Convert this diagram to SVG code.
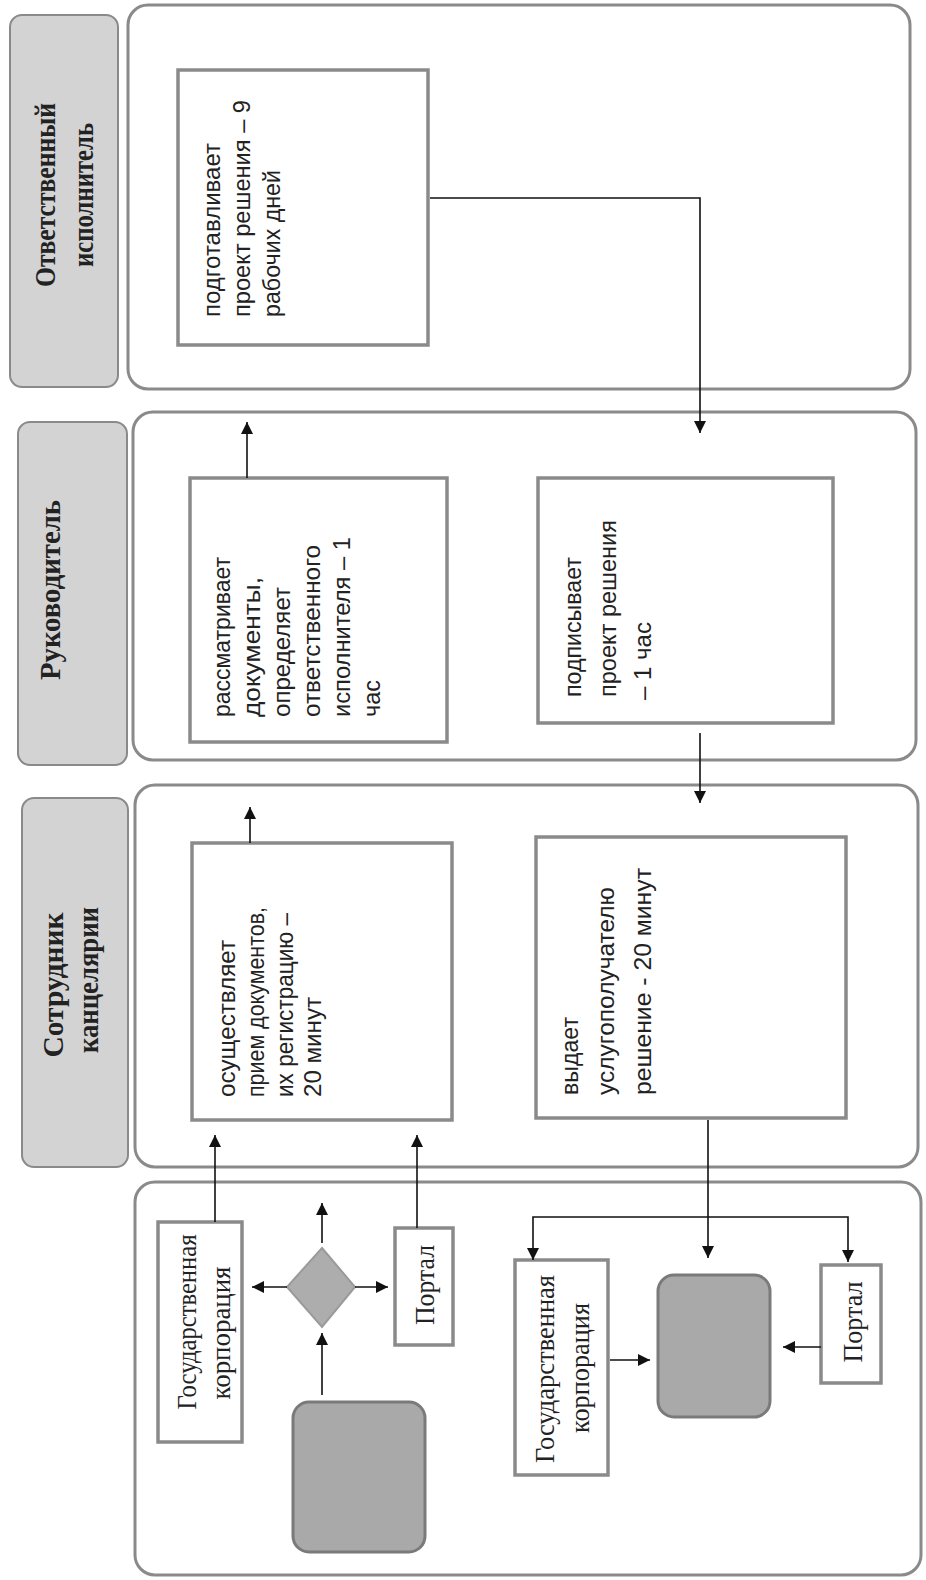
<svg xmlns="http://www.w3.org/2000/svg" width="926" height="1580" viewBox="0 0 926 1580">
<style>
.lane{fill:#ffffff;stroke:#8a8a8a;stroke-width:3}
.hdr{fill:#d3d3d3;stroke:#8a8a8a;stroke-width:2}
.box{fill:#ffffff;stroke:#8a8a8a;stroke-width:3.5}
.gray{fill:#a9a9a9;stroke:#7a7a7a;stroke-width:3}
.ht{font-family:"Liberation Serif",serif;font-weight:bold;font-size:29px;fill:#222;text-anchor:middle;dominant-baseline:central}
.bt{font-family:"Liberation Sans",sans-serif;font-size:23px;fill:#222;dominant-baseline:central}
.st{font-family:"Liberation Serif",serif;font-size:27px;fill:#222;text-anchor:middle;dominant-baseline:central}
.con{fill:none;stroke:#111;stroke-width:1.6}
</style>
<defs>
<marker id="ah" viewBox="0 0 10 10" refX="10" refY="5" markerWidth="7.5" markerHeight="7.5" markerUnits="strokeWidth" orient="auto-start-reverse">
<path d="M0,0 L10,5 L0,10 z" fill="#111"/>
</marker>
</defs>
<rect width="926" height="1580" fill="#ffffff"/>

<g id="lane1">
<rect class="hdr" x="10" y="15" width="108" height="372" rx="12"/>
<rect class="lane" x="128" y="5" width="782" height="384" rx="20"/>
<text class="ht" transform="translate(45,195) rotate(-90)" textLength="184" lengthAdjust="spacingAndGlyphs">Ответственный</text>
<text class="ht" transform="translate(83,195) rotate(-90)" textLength="144" lengthAdjust="spacingAndGlyphs">исполнитель</text>
</g>
<g id="lane2">
<rect class="hdr" x="18" y="422" width="109" height="343" rx="12"/>
<rect class="lane" x="133" y="412" width="783" height="348" rx="20"/>
<text class="ht" transform="translate(50,590) rotate(-90)" textLength="180" lengthAdjust="spacingAndGlyphs">Руководитель</text>
</g>
<g id="lane3">
<rect class="hdr" x="22" y="798" width="106" height="369" rx="12"/>
<rect class="lane" x="135" y="785" width="783" height="382" rx="20"/>
<text class="ht" transform="translate(53,985) rotate(-90)" textLength="145" lengthAdjust="spacingAndGlyphs">Сотрудник</text>
<text class="ht" transform="translate(88,980) rotate(-90)" textLength="146" lengthAdjust="spacingAndGlyphs">канцелярии</text>
</g>
<g id="lane4">
<rect class="lane" x="135" y="1182" width="786" height="393" rx="20"/>
</g>

<g id="b1">
<rect class="box" x="178" y="70" width="250" height="275"/>
<text class="bt" transform="translate(212,317) rotate(-90)" textLength="174" lengthAdjust="spacingAndGlyphs">подготавливает</text>
<text class="bt" transform="translate(242,317) rotate(-90)" textLength="217" lengthAdjust="spacingAndGlyphs">проект решения – 9</text>
<text class="bt" transform="translate(272,317) rotate(-90)" textLength="147" lengthAdjust="spacingAndGlyphs">рабочих дней</text>
</g>
<g id="b2">
<rect class="box" x="190" y="478" width="257" height="264"/>
<text class="bt" transform="translate(222,717) rotate(-90)" textLength="160" lengthAdjust="spacingAndGlyphs">рассматривает</text>
<text class="bt" transform="translate(252,717) rotate(-90)" textLength="140" lengthAdjust="spacingAndGlyphs">документы,</text>
<text class="bt" transform="translate(282,717) rotate(-90)" textLength="130" lengthAdjust="spacingAndGlyphs">определяет</text>
<text class="bt" transform="translate(312,717) rotate(-90)" textLength="172" lengthAdjust="spacingAndGlyphs">ответственного</text>
<text class="bt" transform="translate(342,717) rotate(-90)" textLength="180" lengthAdjust="spacingAndGlyphs">исполнителя – 1</text>
<text class="bt" transform="translate(372,717) rotate(-90)" textLength="37" lengthAdjust="spacingAndGlyphs">час</text>
</g>
<g id="b3">
<rect class="box" x="538" y="478" width="295" height="245"/>
<text class="bt" transform="translate(573,697) rotate(-90)" textLength="140" lengthAdjust="spacingAndGlyphs">подписывает</text>
<text class="bt" transform="translate(608,697) rotate(-90)" textLength="177" lengthAdjust="spacingAndGlyphs">проект решения</text>
<text class="bt" transform="translate(643,700) rotate(-90)" textLength="78" lengthAdjust="spacingAndGlyphs">– 1 час</text>
</g>
<g id="b4">
<rect class="box" x="192" y="843" width="260" height="277"/>
<text class="bt" transform="translate(227,1097) rotate(-90)" textLength="157" lengthAdjust="spacingAndGlyphs">осуществляет</text>
<text class="bt" transform="translate(256,1097) rotate(-90)" textLength="190" lengthAdjust="spacingAndGlyphs">прием документов,</text>
<text class="bt" transform="translate(285,1097) rotate(-90)" textLength="184" lengthAdjust="spacingAndGlyphs">их регистрацию –</text>
<text class="bt" transform="translate(313,1097) rotate(-90)" textLength="100" lengthAdjust="spacingAndGlyphs">20 минут</text>
</g>
<g id="b5">
<rect class="box" x="536" y="837" width="310" height="281"/>
<text class="bt" transform="translate(570,1095) rotate(-90)" textLength="78" lengthAdjust="spacingAndGlyphs">выдает</text>
<text class="bt" transform="translate(606,1095) rotate(-90)" textLength="208" lengthAdjust="spacingAndGlyphs">услугополучателю</text>
<text class="bt" transform="translate(643,1095) rotate(-90)" textLength="227" lengthAdjust="spacingAndGlyphs">решение - 20 минут</text>
</g>

<g id="gov1">
<rect class="box" x="158" y="1222" width="84" height="220"/>
<text class="st" transform="translate(187,1322) rotate(-90)" textLength="175" lengthAdjust="spacingAndGlyphs">Государственная</text>
<text class="st" transform="translate(221,1333) rotate(-90)" textLength="133" lengthAdjust="spacingAndGlyphs">корпорация</text>
</g>
<g id="portal1">
<rect class="box" x="395" y="1228" width="58" height="117"/>
<text class="st" transform="translate(425,1285) rotate(-90)" textLength="80" lengthAdjust="spacingAndGlyphs">Портал</text>
</g>
<g id="decision">
<polygon points="322,1248 355,1287 322,1327 287,1287" fill="#adadad" stroke="#9a9a9a" stroke-width="2"/>
</g>
<g id="start">
<rect class="gray" x="293" y="1402" width="132" height="150" rx="16"/>
</g>
<g id="gov2">
<rect class="box" x="515" y="1260" width="93" height="215"/>
<text class="st" transform="translate(545,1369) rotate(-90)" textLength="188" lengthAdjust="spacingAndGlyphs">Государственная</text>
<text class="st" transform="translate(580,1368) rotate(-90)" textLength="130" lengthAdjust="spacingAndGlyphs">корпорация</text>
</g>
<g id="end">
<rect class="gray" x="658" y="1275" width="112" height="142" rx="16"/>
</g>
<g id="portal2">
<rect class="box" x="821" y="1265" width="60" height="118"/>
<text class="st" transform="translate(853,1322) rotate(-90)" textLength="81" lengthAdjust="spacingAndGlyphs">Портал</text>
</g>

<g id="connectors">
<path class="con" d="M430,198 H700 V433" marker-end="url(#ah)"/>
<path class="con" d="M247,478 V422" marker-end="url(#ah)"/>
<path class="con" d="M700,733 V803" marker-end="url(#ah)"/>
<path class="con" d="M250,843 V807" marker-end="url(#ah)"/>
<path class="con" d="M215,1222 V1135" marker-end="url(#ah)"/>
<path class="con" d="M417,1228 V1135" marker-end="url(#ah)"/>
<path class="con" d="M708,1120 V1258" marker-end="url(#ah)"/>
<path class="con" d="M533,1260 V1217 H848 V1262" marker-start="url(#ah)" marker-end="url(#ah)"/>
<path class="con" d="M287,1287 H252" marker-end="url(#ah)"/>
<path class="con" d="M355,1287 H388" marker-end="url(#ah)"/>
<path class="con" d="M322,1243 V1203" marker-end="url(#ah)"/>
<path class="con" d="M322,1395 V1333" marker-end="url(#ah)"/>
<path class="con" d="M610,1360 H650" marker-end="url(#ah)"/>
<path class="con" d="M821,1347 H783" marker-end="url(#ah)"/>
</g>
</svg>
